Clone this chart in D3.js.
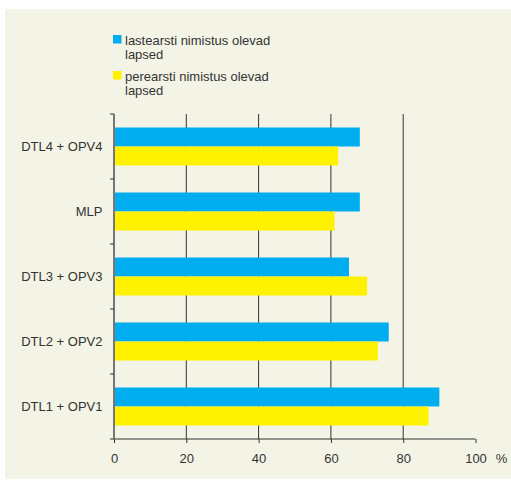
<!DOCTYPE html>
<html><head><meta charset="utf-8">
<script src="https://cdn.jsdelivr.net/npm/d3@7"></script>
<style>body{margin:0;background:#fff;}svg{display:block;}text{font-family:"Liberation Sans",Arial,sans-serif;}</style>
</head><body>
<svg id="c" width="511" height="480"></svg>
<script>
const categories = ["DTL4 + OPV4", "MLP", "DTL3 + OPV3", "DTL2 + OPV2", "DTL1 + OPV1"];
const seriesNames = ["lastearsti nimistus olevad lapsed", "perearsti nimistus olevad lapsed"];
const blueValues = [68, 68, 65, 76, 90];
const yellowValues = [62, 61, 70, 73, 87];
const xTicks = [0, 20, 40, 60, 80, 100];

const colors = ["#00aeef", "#fff200"];
const svg = d3.select("#c");
svg.append("rect").attr("x", 5).attr("y", 9).attr("width", 506).attr("height", 470).attr("fill", "#f3f3e6");

const x = d3.scaleLinear().domain([0, 100]).range([114, 475.5]);
const y = d3.scaleBand().domain(categories).range([114, 439]).paddingInner(0).paddingOuter(0);
const inner = d3.scaleBand().domain([0, 1]).range([0, y.bandwidth()]).paddingInner(0).paddingOuter(0.71);

// gridlines
svg.append("g").selectAll("line").data(xTicks.filter(t => t > 0 && t < 100)).join("line")
  .attr("x1", d => x(d)).attr("x2", d => x(d)).attr("y1", 114).attr("y2", 439)
  .attr("stroke", "#333").attr("stroke-width", 1);

// bars
const data = categories.map((c, i) => ({c, v: [blueValues[i], yellowValues[i]]}));
const g = svg.append("g");
data.forEach(d => {
  d.v.forEach((v, s) => {
    g.append("rect").attr("x", x(0)).attr("y", y(d.c) + inner(s))
      .attr("width", x(v) - x(0)).attr("height", inner.bandwidth()).attr("fill", colors[s]);
  });
});

// x axis
const xAxis = d3.axisBottom(x).tickValues(xTicks).tickSize(4).tickPadding(11);
const gx = svg.append("g").attr("transform", "translate(0,439)").call(xAxis);
gx.select(".domain").attr("stroke", "#333").attr("d", "M114,0H475.5");
gx.selectAll(".tick line").attr("stroke", "#333");
gx.selectAll("text").attr("font-size", 13).attr("fill", "#333").attr("font-family", "Liberation Sans, Arial, sans-serif").attr("dy", "0.71em");

// y axis
const yTickPos = d3.range(categories.length + 1).map(i => 114 + i * y.step());
const gy = svg.append("g");
gy.append("line").attr("x1", 114).attr("x2", 114).attr("y1", 114).attr("y2", 439).attr("stroke", "#777").attr("stroke-width", 2);
gy.selectAll("line.t").data(yTickPos).join("line").attr("class", "t")
  .attr("x1", 110).attr("x2", 114).attr("y1", d => d).attr("y2", d => d).attr("stroke", "#333");
gy.selectAll("text").data(categories).join("text")
  .attr("x", 102.5).attr("y", d => y(d) + y.bandwidth() / 2).attr("dy", "0.35em")
  .attr("text-anchor", "end").attr("font-size", 13).attr("fill", "#333").text(d => d);

svg.append("text").attr("x", 501.5).attr("y", 454).attr("dy", "0.71em").attr("text-anchor", "middle")
  .attr("font-size", 13).attr("fill", "#333").text("%");

// legend
const legendLines = [["lastearsti nimistus olevad", "lapsed"], ["perearsti nimistus olevad", "lapsed"]];
const ly = [35, 71];
legendLines.forEach((lines, i) => {
  svg.append("rect").attr("x", 113).attr("y", ly[i]).attr("width", 8.5).attr("height", 8.5).attr("fill", colors[i]);
  lines.forEach((t, j) => {
    svg.append("text").attr("x", 125).attr("y", ly[i] + 10 + j * 13.5).attr("font-size", 13).attr("fill", "#333").text(t);
  });
});
</script>
</body></html>
